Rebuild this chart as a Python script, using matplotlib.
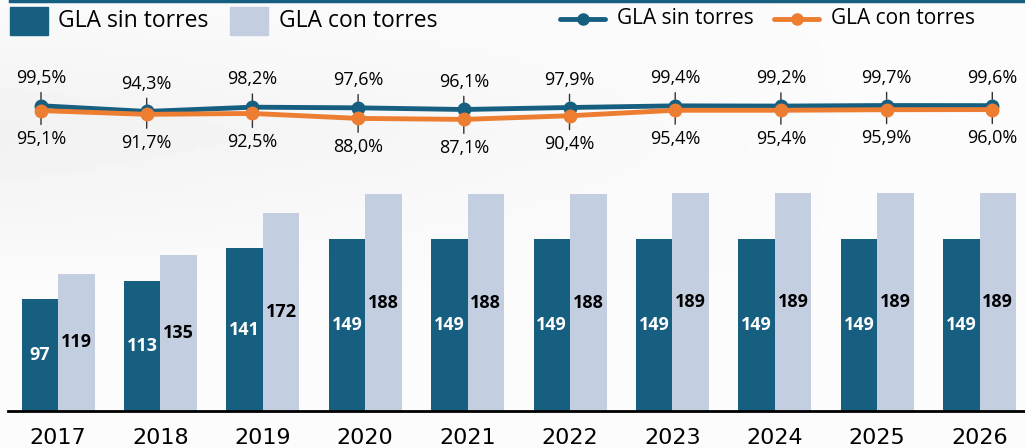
import matplotlib
matplotlib.use("Agg")
import matplotlib.pyplot as plt
import numpy as np
from matplotlib.patches import Rectangle
from matplotlib.lines import Line2D

years = ["2017", "2018", "2019", "2020", "2021", "2022", "2023", "2024", "2025", "2026"]
gla_sin = [97, 113, 141, 149, 149, 149, 149, 149, 149, 149]
gla_con = [119, 135, 172, 188, 188, 188, 189, 189, 189, 189]
occ_sin = [99.5, 94.3, 98.2, 97.6, 96.1, 97.9, 99.4, 99.2, 99.7, 99.6]
occ_con = [95.1, 91.7, 92.5, 88.0, 87.1, 90.4, 95.4, 95.4, 95.9, 96.0]
legend_labels = ["GLA sin torres", "GLA con torres"]

DARK = "#175f80"
LIGHT = "#c3cee1"
ORANGE = "#ed7d31"

W, H = 1025, 448
fig = plt.figure(figsize=(W / 100, H / 100), dpi=100)
fig.patch.set_facecolor("#fbfbfb")

# subtle background gradient (light grey top-left)
bg = fig.add_axes([0, 0, 1, 1], zorder=-10)
gx = np.linspace(0, 1, 200)
gy = np.linspace(0, 1, 100)
GX, GY = np.meshgrid(gx, gy)
shade = np.clip((1 - GX) * 1.2 - 0.2, 0, 1) * np.clip(1 - np.abs(GY - 0.3) / 0.35, 0, 1)
grad = 0.985 - 0.04 * shade
bg.imshow(grad, cmap="gray", vmin=0, vmax=1, aspect="auto", extent=[0, 1, 0, 1])
bg.axis("off")

def fx(px):
    return px / W

def fy(py):
    return (H - py) / H

# top border line
fig.add_artist(Line2D([fx(10), 1], [fy(1), fy(1)], color=DARK, lw=2.5))

# ---- bar axes ----
n = len(years)
x = np.arange(n)
sp = 102.4
c0 = 58
left_px = 8
base_px = 411
top_px = 180
ax = fig.add_axes([fx(left_px), fy(base_px), fx(W - left_px), (base_px - top_px) / H])
ax.set_facecolor("none")
unit = 1.154
ax.set_xlim(-(c0 - left_px) / sp, (W - c0) / sp)
ax.set_ylim(0, (base_px - top_px) / unit)
bw = 36.5 / sp
ax.bar(x - bw / 2, gla_sin, width=bw, color=DARK, zorder=2)
ax.bar(x + bw / 2, gla_con, width=bw, color=LIGHT, zorder=2)
for xi, v in zip(x, gla_sin):
    ax.text(xi - bw / 2, v / 2, str(v), ha="center", va="center", color="white",
            fontsize=13, fontweight="bold", family="Open Sans")
for xi, v in zip(x, gla_con):
    ax.text(xi + bw / 2, v / 2, str(v), ha="center", va="center", color="black",
            fontsize=13, fontweight="bold", family="Open Sans")
for s in ["top", "right", "left"]:
    ax.spines[s].set_visible(False)
ax.spines["bottom"].set_linewidth(2)
ax.spines["bottom"].set_color("black")
ax.set_yticks([])
ax.set_xticks(x)
ax.set_xticklabels(years, fontsize=16, family="DejaVu Sans")
ax.tick_params(axis="x", length=0, pad=12)

# ---- line axes ----
lsp = 105.7
l0 = 41
la = fig.add_axes([0, fy(160), 1, 100 / H])
la.set_facecolor("none")
la.set_xlim(-l0 / lsp, (W - l0) / lsp)
la.set_ylim((215.2 - 160) / 1.1, (215.2 - 60) / 1.1)
la.axis("off")
la.plot(x, occ_con, color=ORANGE, lw=3.5, marker="o", ms=9, zorder=3, solid_capstyle="round")
la.plot(x, occ_sin, color=DARK, lw=3.5, marker="o", ms=9, zorder=2, solid_capstyle="round")

def fmt(v):
    return f"{v:.1f}%".replace(".", ",")

for xi, v in zip(x, occ_sin):
    la.annotate(fmt(v), xy=(xi, v), xytext=(0, 20), textcoords="offset points",
                ha="center", va="center", fontsize=13, family="Open Sans",
                arrowprops=dict(arrowstyle="-", color="#333333", lw=1,
                                ls=(0, (5, 20)), shrinkA=2, shrinkB=0), zorder=1)
for xi, v in zip(x, occ_con):
    la.annotate(fmt(v), xy=(xi, v), xytext=(0, -20.5), textcoords="offset points",
                ha="center", va="center", fontsize=13, family="Open Sans",
                arrowprops=dict(arrowstyle="-", color="#333333", lw=1,
                                ls=(0, (5, 20)), shrinkA=2, shrinkB=0), zorder=1)

# ---- legends (drawn in figure coords) ----
fig.add_artist(Rectangle((fx(10), fy(35)), fx(38), 28 / H, color=DARK, transform=fig.transFigure))
fig.text(fx(58), fy(21), legend_labels[0], va="center", ha="left", fontsize=16.5, family="Open Sans")
fig.add_artist(Rectangle((fx(230), fy(35)), fx(38), 28 / H, color=LIGHT, transform=fig.transFigure))
fig.text(fx(279), fy(21), legend_labels[1], va="center", ha="left", fontsize=16.5, family="Open Sans")

for x0, col, lab in [(560, DARK, legend_labels[0]), (774, ORANGE, legend_labels[1])]:
    fig.add_artist(Line2D([fx(x0), fx(x0 + 45)], [fy(19), fy(19)], color=col, lw=3.5,
                          transform=fig.transFigure, solid_capstyle="round"))
    fig.add_artist(Line2D([fx(x0 + 22.5)], [fy(19)], color=col, marker="o", ms=8,
                          transform=fig.transFigure))
    fig.text(fx(x0 + 57), fy(19), lab, va="center", ha="left", fontsize=15, family="Open Sans")

fig.savefig("out.png", dpi=100, facecolor=fig.get_facecolor())
